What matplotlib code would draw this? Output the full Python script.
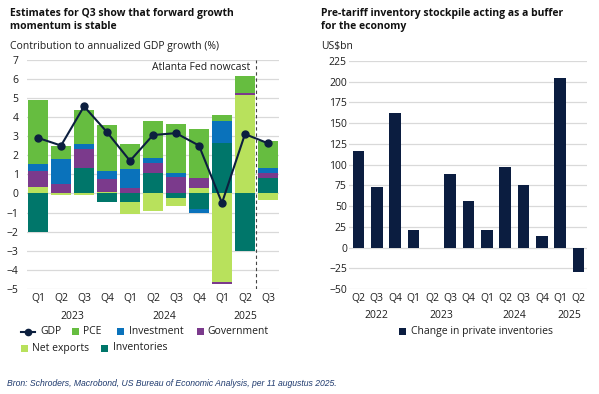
import numpy as np
import matplotlib
matplotlib.use("Agg")
import matplotlib.pyplot as plt
from matplotlib.patches import Rectangle
from matplotlib.lines import Line2D
import matplotlib.transforms as mtransforms

plt.rcParams['font.family'] = ['Open Sans', 'DejaVu Sans']

# ---------------- data: left chart ----------------
quarters_l = ["Q1", "Q2", "Q3", "Q4", "Q1", "Q2", "Q3", "Q4", "Q1", "Q2", "Q3"]
years_l = ["2023", "2023", "2023", "2023", "2024", "2024", "2024", "2024", "2025", "2025", "2025"]
pce = [3.35, 0.65, 1.75, 2.38, 1.30, 1.90, 2.55, 2.60, 0.29, 0.90, 1.43]
investment = [0.37, 1.35, 0.26, 0.44, 1.00, 0.26, 0.22, -0.20, 1.14, 0.00, 0.23]
government = [0.85, 0.47, 0.99, 0.64, 0.30, 0.55, 0.86, 0.52, -0.09, 0.08, 0.26]
net_exports = [0.33, -0.10, -0.08, 0.09, -0.60, -0.90, -0.43, 0.26, -4.64, 5.15, -0.35]
inventories = [-2.00, 0.00, 1.35, -0.45, -0.47, 1.05, -0.22, -0.80, 2.65, -3.00, 0.82]
gdp = [2.90, 2.50, 4.55, 3.20, 1.70, 3.05, 3.15, 2.50, -0.50, 3.10, 2.62]

# ---------------- data: right chart ----------------
quarters_r = ["Q2", "Q3", "Q4", "Q1", "Q2", "Q3", "Q4", "Q1", "Q2", "Q3", "Q4", "Q1", "Q2"]
years_r = ["2022", "2022", "2022", "2023", "2023", "2023", "2023", "2024", "2024", "2024", "2024", "2025", "2025"]
cipi = [117, 73, 162.5, 21, 0, 89, 56, 21.5, 97, 75, 14, 205, -30]

# ---------------- styles ----------------
C_PCE = "#66bd40"
C_INV = "#0a72bb"
C_GOV = "#7b3a8c"
C_NX = "#b8e15c"
C_STK = "#00766a"
C_GDP = "#0c1f3f"
C_NAVY = "#0b1d40"
C_GRID = "#d9d9d9"
C_TXT = "#1e1e1e"
FS = 7.5

W, H = 599, 394
fig = plt.figure(figsize=(W / 100, H / 100), dpi=100)


def px_ax(l, t, r, b):
    return [l / W, 1 - b / H, (r - l) / W, (b - t) / H]


def year_centers(years):
    out = []
    for y in dict.fromkeys(years):
        idx = [i for i, v in enumerate(years) if v == y]
        out.append((y, (min(idx) + max(idx)) / 2))
    return out


def style_axis(ax, pad):
    for s in ax.spines.values():
        s.set_visible(False)
    ax.tick_params(length=0, labelsize=FS, colors=C_TXT)
    ax.tick_params(axis='y', pad=pad)
    ax.tick_params(axis='x', pad=3.2)
    ax.yaxis.grid(True, color=C_GRID, lw=0.9)
    ax.set_axisbelow(True)


# ---------------- left chart ----------------
ax1 = fig.add_axes(px_ax(27, 59.5, 279, 289))
x = np.arange(len(quarters_l))
series = [(inventories, C_STK), (net_exports, C_NX), (government, C_GOV),
          (investment, C_INV), (pce, C_PCE)]
pos_b = np.zeros(len(x))
neg_b = np.zeros(len(x))
for vals, col in series:
    v = np.array(vals, dtype=float)
    p = np.where(v > 0, v, 0)
    n = np.where(v < 0, v, 0)
    ax1.bar(x, p, bottom=pos_b, width=0.87, color=col, linewidth=0)
    ax1.bar(x, n, bottom=neg_b, width=0.87, color=col, linewidth=0)
    pos_b += p
    neg_b += n
ax1.plot(x, gdp, color=C_GDP, lw=1.5, marker='o', ms=5, zorder=5)
ax1.axvline(9.5, color="#444444", lw=0.8, ls=(0, (3, 2.5)), zorder=6)
ax1.text(9.22, 6.6, "Atlanta Fed nowcast", ha='right', va='center', fontsize=FS, color=C_TXT)
ax1.set_xlim(-0.48, len(x) - 0.52)
ax1.set_ylim(-5, 7)
ax1.set_yticks(np.arange(-5, 8, 1))
ax1.set_xticks(x, labels=quarters_l)
style_axis(ax1, 6)
tr1 = mtransforms.blended_transform_factory(ax1.transData, ax1.transAxes)
for y, c in year_centers(years_l):
    ax1.text(c, -0.118, y, transform=tr1, ha='center', va='center', fontsize=FS, color=C_TXT)

# ---------------- right chart ----------------
ax2 = fig.add_axes(px_ax(349, 61, 587, 289))
xr = np.arange(len(quarters_r))
ax2.bar(xr, cipi, width=0.64, color=C_NAVY, linewidth=0)
ax2.set_xlim(-0.52, len(xr) - 0.54)
ax2.set_ylim(-50, 225)
ax2.set_yticks(np.arange(-50, 226, 25))
ax2.set_xticks(xr, labels=quarters_r)
style_axis(ax2, 1.5)
tr2 = mtransforms.blended_transform_factory(ax2.transData, ax2.transAxes)
for y, c in year_centers(years_r):
    ax2.text(c, -0.118, y, transform=tr2, ha='center', va='center', fontsize=FS, color=C_TXT)

# ---------------- titles ----------------
def ftext(xp, yp, s, **kw):
    fig.text(xp / W, 1 - yp / H, s, va='center', ha='left', **kw)

ftext(10, 13.5, "Estimates for Q3 show that forward growth", fontsize=FS, fontweight='bold', color="#111111")
ftext(10, 26.5, "momentum is stable", fontsize=FS, fontweight='bold', color="#111111")
ftext(10, 47, "Contribution to annualized GDP growth (%)", fontsize=FS, color=C_TXT)
ftext(321, 13.5, "Pre-tariff inventory stockpile acting as a buffer", fontsize=FS, fontweight='bold', color="#111111")
ftext(321, 26.5, "for the economy", fontsize=FS, fontweight='bold', color="#111111")
ftext(321, 47, "US$bn", fontsize=FS, color=C_TXT)

# ---------------- legends (manual) ----------------
def leg_square(xp, yp, col, label, tx):
    s = 7
    fig.add_artist(Rectangle((xp / W, 1 - (yp + s / 2) / H), s / W, s / H,
                             transform=fig.transFigure, color=col, lw=0))
    ftext(tx, yp, label, fontsize=FS, color=C_TXT)

fig.add_artist(Line2D([21 / W, 35 / W], [1 - 331.5 / H] * 2, transform=fig.transFigure,
                      color=C_GDP, lw=1.5))
fig.add_artist(Line2D([28 / W], [1 - 331.5 / H], transform=fig.transFigure,
                      color=C_GDP, marker='o', ms=4.5))
ftext(40, 331.5, "GDP", fontsize=FS, color=C_TXT)
leg_square(72, 331.5, C_PCE, "PCE", 83)
leg_square(117, 331.5, C_INV, "Investment", 129)
leg_square(197, 331.5, C_GOV, "Government", 207)
leg_square(21, 348, C_NX, "Net exports", 32)
leg_square(101, 348, C_STK, "Inventories", 113)
leg_square(399, 331.5, C_NAVY, "Change in private inventories", 411)

# ---------------- source ----------------
fig.text(7 / W, 1 - 384 / H, "Bron: Schroders, Macrobond, US Bureau of Economic Analysis, per 11 augustus 2025.",
         fontsize=6.2, style='italic', family=['Liberation Sans', 'DejaVu Sans'],
         color="#1f3a6e", va='center', ha='left')

fig.savefig("out.png", dpi=100)
